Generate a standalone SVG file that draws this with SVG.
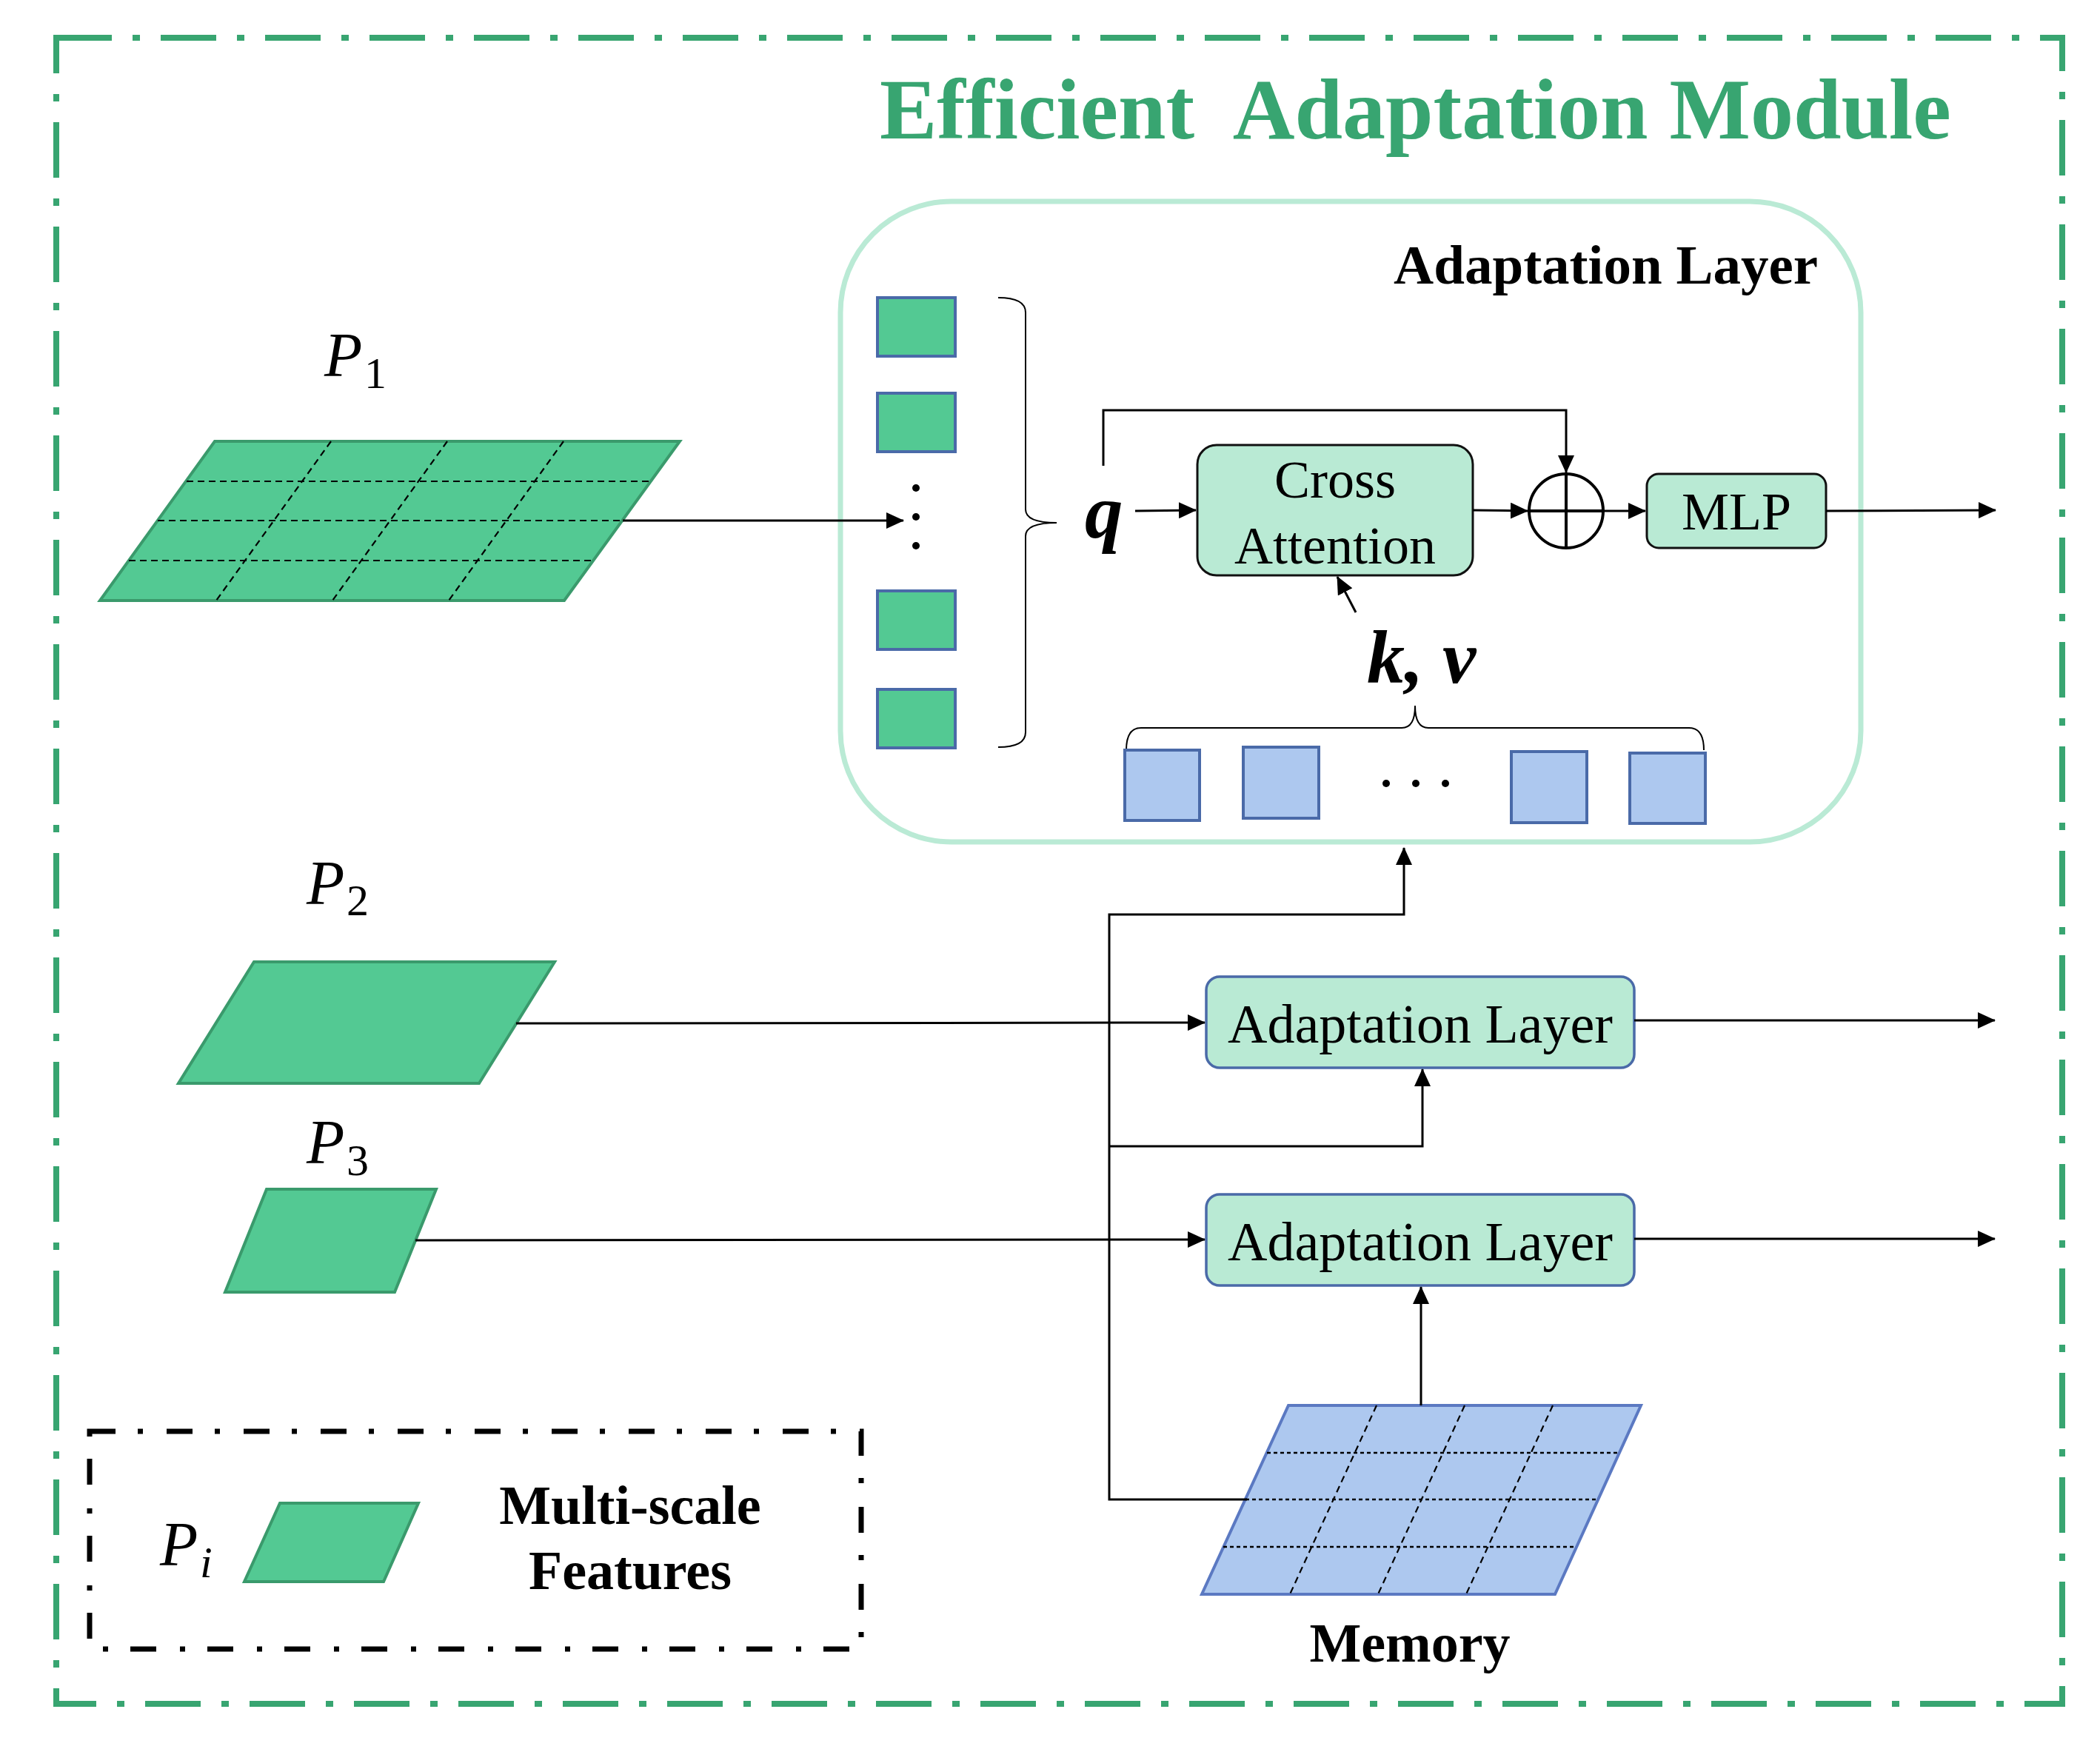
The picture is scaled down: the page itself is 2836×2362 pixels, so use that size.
<svg xmlns="http://www.w3.org/2000/svg" width="2836" height="2362" viewBox="0 0 2836 2362">
<style>
.ser{font-family:"Liberation Serif","Times New Roman",serif}
.b{font-weight:bold}
.it{font-style:italic}
.ln{fill:none;stroke:#000;stroke-width:3}
.dl{stroke:#000;stroke-width:2.2;stroke-dasharray:9 6;fill:none}
.gpar{fill:#53C993;stroke:#3A9A6C;stroke-width:4}
.gsq{fill:#53C993;stroke:#4A6AA8;stroke-width:4}
.bsq{fill:#ADC8EF;stroke:#4A6AA8;stroke-width:4}
.node{fill:#B9EAD4}
</style>
<defs>
<marker id="ah" markerUnits="userSpaceOnUse" markerWidth="24" markerHeight="22" refX="23" refY="11" orient="auto">
<path d="M0,0 L24,11 L0,22 z" fill="#000"/>
</marker>
</defs>
<rect width="2836" height="2362" fill="#fff"/>

<g id="outer">
<rect x="76" y="51" width="2709" height="2250" fill="none" stroke="#38A571" stroke-width="8" stroke-dasharray="75 28 10 28"/>
<text x="1188" y="187" class="ser b" font-size="116" fill="#38A571" style="white-space:pre">Efficient  Adaptation Module</text>
</g>

<g id="adaptation-layer-big">
<rect x="1135" y="272" width="1378" height="865" rx="150" ry="150" fill="none" stroke="#BAEAD5" stroke-width="7"/>
<text x="2455" y="383" text-anchor="end" class="ser b" font-size="75">Adaptation Layer</text>
</g>

<g id="q-tokens">
<rect x="1185" y="402" width="105" height="79" class="gsq"/>
<rect x="1185" y="531" width="105" height="79" class="gsq"/>
<rect x="1185" y="798" width="105" height="79" class="gsq"/>
<rect x="1185" y="931" width="105" height="79" class="gsq"/>
<circle cx="1237" cy="659" r="5"/>
<circle cx="1237" cy="698" r="5"/>
<circle cx="1237" cy="737" r="5"/>
<path d="M1348,402 Q1385,402 1385,422 L1385,688 Q1385,706 1427,706 Q1385,706 1385,724 L1385,989 Q1385,1009 1348,1009" fill="none" stroke="#000" stroke-width="2"/>
<text x="1465" y="726" class="ser b it" font-size="103">q</text>
</g>

<g id="cross-attention">
<rect x="1617" y="601" width="372" height="176" rx="26" ry="26" class="node" stroke="#111" stroke-width="3"/>
<text x="1803" y="672" text-anchor="middle" class="ser" font-size="72">Cross</text>
<text x="1803" y="761" text-anchor="middle" class="ser" font-size="72">Attention</text>
</g>

<g id="add">
<circle cx="2115" cy="690" r="50" fill="none" stroke="#000" stroke-width="4"/>
<line x1="2065" y1="690" x2="2165" y2="690" stroke="#000" stroke-width="4"/>
<line x1="2115" y1="640" x2="2115" y2="740" stroke="#000" stroke-width="4"/>
</g>

<g id="mlp">
<rect x="2224" y="640" width="242" height="100" rx="16" ry="16" class="node" stroke="#111" stroke-width="3"/>
<text x="2345" y="715" text-anchor="middle" class="ser" font-size="72">MLP</text>
</g>

<g id="kv-tokens">
<text x="1846" y="922" class="ser b it" font-size="102">k, v</text>
<path d="M1521,1013 Q1521,983 1541,983 L1893,983 Q1911,983 1911,953 Q1911,983 1929,983 L2281,983 Q2301,983 2301,1013" fill="none" stroke="#000" stroke-width="2"/>
<rect x="1519" y="1013" width="101" height="95" class="bsq"/>
<rect x="1679" y="1009" width="102" height="96" class="bsq"/>
<rect x="2041" y="1015" width="102" height="96" class="bsq"/>
<rect x="2201" y="1017" width="102" height="95" class="bsq"/>
<circle cx="1872" cy="1058" r="5"/>
<circle cx="1912" cy="1058" r="5"/>
<circle cx="1952" cy="1058" r="5"/>
</g>

<g id="p1">
<polygon points="290,596 918,596 762,811 135,811" class="gpar"/>
<line x1="252" y1="650" x2="880" y2="650" class="dl"/>
<line x1="213" y1="703" x2="841" y2="703" class="dl"/>
<line x1="174" y1="757" x2="802" y2="757" class="dl"/>
<line x1="447" y1="596" x2="292" y2="811" class="dl"/>
<line x1="604" y1="596" x2="449" y2="811" class="dl"/>
<line x1="761" y1="596" x2="606" y2="811" class="dl"/>
<text x="438" y="508" class="ser it" font-size="84">P</text>
<text x="492" y="524" class="ser" font-size="60">1</text>
</g>

<g id="p2">
<polygon points="343,1299 749,1299 647,1463 241,1463" class="gpar"/>
<text x="414" y="1221" class="ser it" font-size="84">P</text>
<text x="468" y="1236" class="ser" font-size="60">2</text>
</g>

<g id="p3">
<polygon points="360,1606 589,1606 533,1745 304,1745" class="gpar"/>
<text x="414" y="1571" class="ser it" font-size="84">P</text>
<text x="468" y="1587" class="ser" font-size="60">3</text>
</g>

<g id="adaptation-layer-2">
<rect x="1629" y="1319" width="578" height="123" rx="18" ry="18" class="node" stroke="#4A6AA8" stroke-width="3.5"/>
<text x="1918" y="1408" text-anchor="middle" class="ser" font-size="74">Adaptation Layer</text>
</g>

<g id="adaptation-layer-3">
<rect x="1629" y="1613" width="578" height="123" rx="18" ry="18" class="node" stroke="#4A6AA8" stroke-width="3.5"/>
<text x="1918" y="1702" text-anchor="middle" class="ser" font-size="74">Adaptation Layer</text>
</g>

<g id="memory">
<polygon points="1740,1898 2216,1898 2100,2153 1623,2153" fill="#ADC8EF" stroke="#5B79C2" stroke-width="4"/>
<line x1="1711" y1="1962" x2="2187" y2="1962" stroke="#000" stroke-width="2.5" stroke-dasharray="5 4"/>
<line x1="1682" y1="2025" x2="2158" y2="2025" stroke="#000" stroke-width="2.5" stroke-dasharray="5 4"/>
<line x1="1652" y1="2089" x2="2129" y2="2089" stroke="#000" stroke-width="2.5" stroke-dasharray="5 4"/>
<line x1="1859" y1="1898" x2="1742" y2="2153" class="dl"/>
<line x1="1978" y1="1898" x2="1861" y2="2153" class="dl"/>
<line x1="2097" y1="1898" x2="1980" y2="2153" class="dl"/>
<text x="1904" y="2244" text-anchor="middle" class="ser b" font-size="74">Memory</text>
</g>

<g id="legend">
<rect x="121" y="1933" width="1042" height="294" fill="none" stroke="#000" stroke-width="7" stroke-dasharray="35 30 7 32"/>
<text x="216" y="2114" class="ser it" font-size="84">P</text>
<text x="270" y="2130" class="ser it" font-size="60">i</text>
<polygon points="378,2030 565,2030 518,2136 330,2136" class="gpar"/>
<text x="851" y="2058" text-anchor="middle" class="ser b" font-size="74">Multi-scale</text>
<text x="851" y="2146" text-anchor="middle" class="ser b" font-size="74">Features</text>
</g>

<g id="connectors">
<line x1="841" y1="703" x2="1220" y2="703" class="ln" marker-end="url(#ah)"/>
<line x1="1533" y1="690" x2="1615" y2="689" class="ln" marker-end="url(#ah)"/>
<polyline points="1490,629 1490,554 2115,554 2115,638" class="ln" marker-end="url(#ah)"/>
<line x1="1989" y1="689" x2="2063" y2="690" class="ln" marker-end="url(#ah)"/>
<line x1="2165" y1="690" x2="2222" y2="690" class="ln" marker-end="url(#ah)"/>
<line x1="2466" y1="690" x2="2695" y2="689" class="ln" marker-end="url(#ah)"/>
<line x1="1831" y1="827" x2="1806" y2="779" class="ln" marker-end="url(#ah)"/>
<polyline points="1684,2025 1498,2025 1498,1235 1896,1235 1896,1145" class="ln" marker-end="url(#ah)"/>
<polyline points="1498,1548 1921,1548 1921,1444" class="ln" marker-end="url(#ah)"/>
<line x1="697" y1="1382" x2="1627" y2="1381" class="ln" marker-end="url(#ah)"/>
<line x1="2207" y1="1378" x2="2694" y2="1378" class="ln" marker-end="url(#ah)"/>
<line x1="561" y1="1675" x2="1627" y2="1674" class="ln" marker-end="url(#ah)"/>
<line x1="2207" y1="1673" x2="2694" y2="1673" class="ln" marker-end="url(#ah)"/>
<line x1="1919" y1="1898" x2="1919" y2="1738" class="ln" marker-end="url(#ah)"/>
</g>
</svg>
